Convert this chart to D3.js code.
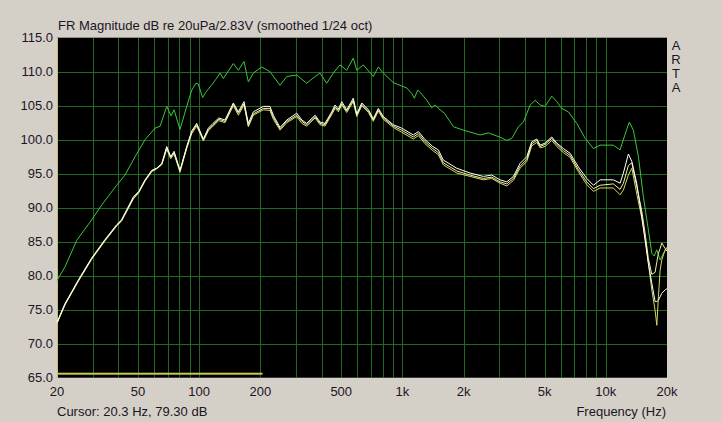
<!DOCTYPE html>
<html>
<head>
<meta charset="utf-8">
<script src="https://cdn.jsdelivr.net/npm/d3@7"></script>
<style>
  html, body { margin: 0; padding: 0; background: #d4d0c8; }
  svg { display: block; }
  text { font-family: "Liberation Sans", Arial, sans-serif; fill: #1c1424; }
</style>
</head>
<body>
<script>
'use strict';

// frequency grid shared by the three near-identical traces (Hz)
const freqs = [
  20, 21.9, 25.5, 29.6, 34.4, 39.3, 41.5, 47.5, 50.5, 54.2,
  58.5, 61.8, 65.5, 69.3, 72.5, 75.3, 80.5, 86.9, 92, 97.3,
  104.9, 111, 117, 125, 134, 147.3, 155.9, 166.3, 174.6, 184.8,
  207, 223, 231.7, 250, 270, 302, 320, 338, 372, 393,
  416, 449, 466, 484, 503, 532, 573, 596, 631, 680,
  719, 761, 805, 902, 991, 1131, 1198, 1292, 1409, 1502,
  1589, 1850, 2149, 2500, 2749, 3020, 3259, 3512, 3785, 4088,
  4324, 4578, 4755, 5028, 5423, 5740, 6188, 6675, 7330, 8061,
  8700,
  9376, 10890, 11757, 12206, 12915, 13430, 14210, 15030, 15600, 16200,
  16840, 17480, 17820, 18150, 18500, 18850, 19570, 20000
];

const whiteDb = [
  73.2, 75.9, 79.4, 82.6, 85.3, 87.5, 88.2, 91.6, 92.4, 94.1,
  95.5, 95.8, 96.5, 99.0, 97.5, 98.3, 95.5, 99.0, 101.3, 102.4,
  100.1, 101.7, 102.4, 103.2, 102.9, 105.4, 104.1, 105.6, 102.4, 104.1,
  104.9, 104.9, 103.6, 101.8, 102.9, 103.9, 102.9, 102.4, 103.6, 102.6,
  102.4, 104.1, 105.1, 104.5, 105.6, 104.4, 106.1, 103.8, 105.4, 104.4,
  103.1, 104.6, 103.4, 102.2, 101.7, 100.7, 101.2, 100.0, 99.0, 98.5,
  97.0, 95.8, 95.1, 94.6, 94.8, 94.1, 93.8, 94.6, 96.5, 97.5,
  99.7, 100.1, 99.2, 99.5, 100.4, 99.5, 98.7, 98.0, 96.0, 94.3,
  93.3,
  94.1, 94.1, 93.6, 95.1, 97.9, 96.8, 93.5, 88.7, 85.3, 81.8,
  78.9, 76.2, 76.2, 76.4, 76.9, 77.4, 77.9, 78.1
];

const lightDb = [
  73.0, 75.8, 79.3, 82.5, 85.2, 87.4, 88.1, 91.4, 92.3, 94.0,
  95.4, 95.8, 96.4, 98.8, 97.4, 98.1, 95.4, 98.9, 101.1, 102.2,
  100.0, 101.5, 102.2, 103.0, 102.7, 105.2, 103.9, 105.3, 102.1, 103.8,
  104.6, 104.6, 103.3, 101.6, 102.7, 103.6, 102.7, 102.2, 103.4, 102.4,
  102.2, 103.9, 104.8, 104.3, 105.3, 104.2, 105.8, 103.6, 105.2, 104.2,
  102.9, 104.4, 103.2, 102.0, 101.4, 100.4, 100.9, 99.7, 98.7, 98.1,
  96.6, 95.4, 94.8, 94.3, 94.5, 93.8, 93.5, 94.3, 96.1, 97.1,
  99.4, 99.9, 99.0, 99.3, 100.2, 99.3, 98.4, 97.7, 95.6, 93.8,
  92.8,
  93.3, 93.5, 92.7, 93.6, 96.2, 96.6, 93.1, 89.5, 86.3, 82.5,
  80.2, 80.5, 82.0, 83.3, 84.0, 84.8, 84.0, 83.6
];

const yellowDb = [
  73.0, 75.7, 79.2, 82.4, 85.1, 87.3, 88.0, 91.3, 92.2, 93.9,
  95.3, 95.7, 96.3, 98.6, 97.2, 97.9, 95.2, 98.7, 100.9, 102.0,
  99.8, 101.3, 102.0, 102.8, 102.5, 105.0, 103.6, 105.1, 101.9, 103.6,
  104.4, 104.3, 103.0, 101.4, 102.5, 103.4, 102.4, 102.0, 103.2, 102.2,
  102.0, 103.7, 104.6, 104.1, 105.1, 104.0, 105.6, 103.4, 105.0, 104.0,
  102.7, 104.2, 103.0, 101.8, 101.1, 100.1, 100.6, 99.4, 98.4, 97.8,
  96.3, 95.1, 94.6, 94.1, 94.3, 93.6, 93.2, 94.0, 95.8, 96.8,
  99.1, 99.6, 98.8, 99.0, 99.9, 99.0, 98.1, 97.4, 95.3, 93.4,
  92.4,
  92.9, 92.9, 91.9, 92.6, 94.8, 95.8, 92.0, 88.5, 85.5, 81.8,
  77.9, 74.9, 72.7, 76.9, 80.8, 82.3, 83.8, 84.2
];

// green trace: own frequency points
const greenFreqs = [
  20, 21.9, 25, 29.6, 33.2, 39.3, 43.2, 48.4, 54.2, 60.7,
  64.3, 69.3, 72.8, 75.3, 80.5, 86.9, 92, 96.5, 99, 104,
  108, 115, 121, 126.7, 131.5, 147.3, 155.9, 166.3, 174.6, 184.8,
  203.2, 223.2, 250, 270, 302, 338, 372, 393, 424, 457,
  493, 532, 573, 596, 642, 719, 761, 805, 902, 973,
  1050, 1111, 1144, 1189, 1244, 1317, 1393, 1447, 1531, 1608,
  1782, 1995, 2408, 2645, 3000,
  3259, 3450, 3716, 3934, 4246, 4490, 4755, 5028, 5423, 5740,
  6075, 6546, 7198, 7915, 8700, 9376, 10890, 11757, 12445, 13060,
  13668, 14470, 15310, 16200, 16840, 17290, 17820, 18500, 19200, 20000
];
const greenDb = [
  79.3, 81.3, 85.2, 88.2, 90.4, 93.3, 94.8, 97.5, 100.0, 101.7,
  102.0, 104.9, 103.5, 104.4, 101.5, 104.9, 107.3, 108.3, 108.2, 106.2,
  107.0, 108.0, 108.9, 109.8, 109.0, 111.2, 110.2, 111.5, 108.5, 109.8,
  110.7, 110.0, 108.0, 109.3, 109.5, 108.3, 109.3, 109.8, 108.3, 109.8,
  111.0, 110.2, 112.0, 110.2, 111.0, 109.3, 110.7, 109.8, 108.4, 108.0,
  107.6, 106.8, 106.1, 107.3, 106.7, 105.8, 104.7, 105.1, 104.4, 103.9,
  101.9, 101.4, 100.7, 101.0, 100.4,
  99.9, 100.2, 101.9, 102.6, 105.1, 105.8, 105.1, 104.9, 106.4, 105.6,
  104.6, 104.1, 102.4, 100.2, 98.7, 99.2, 99.2, 98.5, 100.8, 102.6,
  101.4, 97.5, 91.6, 86.7, 83.3, 82.9, 83.8, 82.3, 83.3, 84.1
];

const xTickVals = [20, 50, 100, 200, 500, 1000, 2000, 5000, 10000, 20000];
const xTickLabels = ["20", "50", "100", "200", "500", "1k", "2k", "5k", "10k", "20k"];
const yTickVals = [115, 110, 105, 100, 95, 90, 85, 80, 75, 70, 65];

let width = 722,
    height = 422,
    pLeft = 57, pRight = 667, pTop = 37.7, pBottom = 377.7,
    svg = d3.select("body").append("svg")
            .attr("width", width)
            .attr("height", height);

let x = d3.scaleLog().domain([20, 20000]).range([pLeft, pRight]),
    y = d3.scaleLinear().domain([65, 115]).range([pBottom, pTop]);

svg.append("rect")
    .attr("width", width)
    .attr("height", height)
    .style("fill", "#d4d0c8");

svg.append("rect")
    .attr("x", pLeft)
    .attr("y", pTop)
    .attr("width", pRight - pLeft)
    .attr("height", pBottom - pTop)
    .style("fill", "#000");

// grid
let grid = svg.append("g").attr("class", "grid")
    .style("stroke", "#1f6a1f")
    .style("stroke-width", 1)
    .style("shape-rendering", "crispEdges");

grid.selectAll("line.v")
    .data(x.ticks().filter(d => d < 20000))
  .enter().append("line")
    .attr("class", "v")
    .attr("x1", d => Math.round(x(d)) + 0.5)
    .attr("x2", d => Math.round(x(d)) + 0.5)
    .attr("y1", pTop)
    .attr("y2", pBottom);

grid.selectAll("line.h")
    .data(yTickVals.filter(d => d > 65 && d < 115))
  .enter().append("line")
    .attr("class", "h")
    .attr("x1", pLeft)
    .attr("x2", pRight)
    .attr("y1", d => Math.round(y(d)) + 0.5)
    .attr("y2", d => Math.round(y(d)) + 0.5);

// left yellow border and the bottom cursor bar
svg.append("line")
    .attr("x1", pLeft + 0.5).attr("x2", pLeft + 0.5)
    .attr("y1", pTop).attr("y2", pBottom)
    .style("stroke", "#c8c070")
    .style("shape-rendering", "crispEdges");

svg.append("rect")
    .attr("x", pLeft)
    .attr("y", 372.7)
    .attr("width", x(205) - pLeft)
    .attr("height", 2)
    .style("fill", "#c8c850");

// traces
let line = d3.line()
    .x(d => x(d[0]))
    .y(d => y(d[1]));

let plot = svg.append("g");

plot.append("path")
    .datum(greenFreqs.map((f, i) => [f, greenDb[i]]))
    .attr("d", line)
    .style("fill", "none")
    .style("stroke", "#3cc83c")
    .style("stroke-width", 1);

[["#d8d860", yellowDb], ["#f4f0a0", lightDb], ["#ffffff", whiteDb]].forEach(s => {
  plot.append("path")
      .datum(freqs.map((f, i) => [f, s[1][i]]))
      .attr("d", line)
      .style("fill", "none")
      .style("stroke", s[0])
      .style("stroke-width", 1);
});

// axis labels
svg.append("g")
  .selectAll("text")
    .data(yTickVals)
  .enter().append("text")
    .attr("x", 53)
    .attr("y", d => y(d) + 4.5)
    .attr("text-anchor", "end")
    .style("font-size", "13px")
    .text(d => d3.format(".1f")(d));

svg.append("g")
  .selectAll("text")
    .data(xTickVals)
  .enter().append("text")
    .attr("x", d => x(d))
    .attr("y", 396)
    .attr("text-anchor", "middle")
    .style("font-size", "13px")
    .text((d, i) => xTickLabels[i]);

svg.append("text")
    .attr("x", 58)
    .attr("y", 30)
    .style("font-size", "13px")
    .text("FR Magnitude dB re 20uPa/2.83V (smoothed 1/24 oct)");

svg.append("text")
    .attr("x", 57)
    .attr("y", 416)
    .style("font-size", "13px")
    .text("Cursor: 20.3 Hz, 79.30 dB");

svg.append("text")
    .attr("x", 666)
    .attr("y", 416)
    .attr("text-anchor", "end")
    .style("font-size", "13px")
    .text("Frequency (Hz)");

svg.append("g")
  .selectAll("text")
    .data(["A", "R", "T", "A"])
  .enter().append("text")
    .attr("x", 676)
    .attr("y", (d, i) => 50 + i * 14)
    .attr("text-anchor", "middle")
    .style("font-size", "13px")
    .text(d => d);
</script>
</body>
</html>
